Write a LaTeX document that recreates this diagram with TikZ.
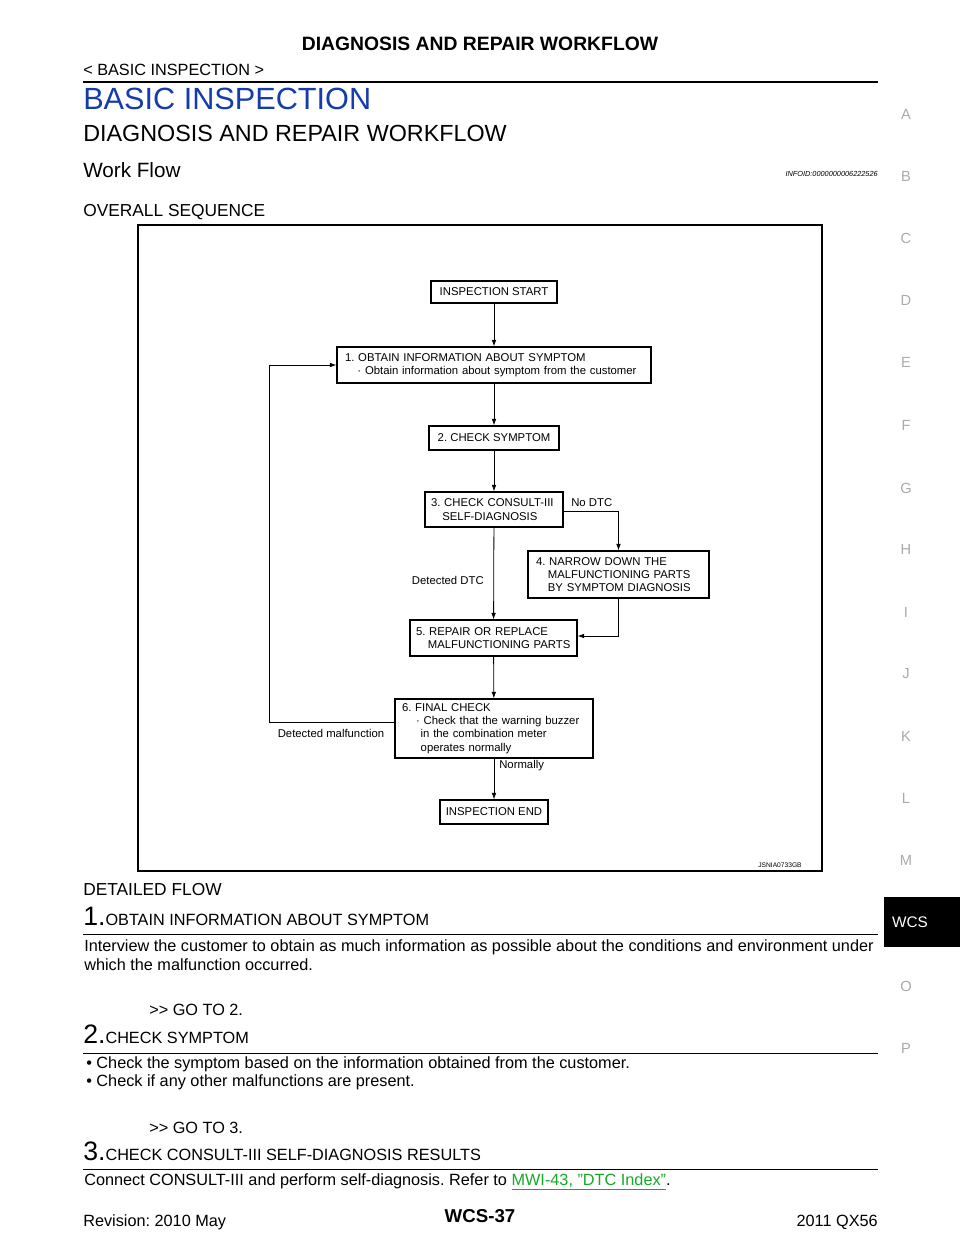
\documentclass[tikz,border=0pt]{standalone}
\usepackage{fontspec}
\setmainfont{Liberation Sans}
\usetikzlibrary{arrows.meta}
\frenchspacing
\definecolor{hblue}{RGB}{20,60,170}
\definecolor{lgray}{RGB}{170,170,170}
\definecolor{lgreen}{RGB}{20,170,40}
\tikzset{
 bx/.style={draw,line width=0.8pt,inner xsep=0pt,inner ysep=0pt,font=\fontsize{8.5}{10}\selectfont},
 fl/.style={font=\fontsize{8.5}{10}\selectfont,inner sep=0pt},
 ar/.style={-{Latex[length=5pt,width=3.5pt]},line width=0.6pt},
 side/.style={text=lgray,font=\fontsize{11}{13}\selectfont,inner sep=0pt},
 body/.style={font=\fontsize{12.2}{14}\selectfont,inner sep=0pt,anchor=west},
}
\begin{document}
\begin{tikzpicture}[x=0.75pt,y=-0.75pt]
\useasboundingbox (0,0) rectangle (960,1242);
% header
\node[font=\bfseries\fontsize{14.5}{16}\selectfont] (h1) at (480,44) {DIAGNOSIS AND REPAIR WORKFLOW};
\node[body] (h2) at (83,70) {< BASIC INSPECTION >};
\draw[line width=1.6pt] (83,82) -- (878,82);
\node[anchor=west,inner sep=0pt,text=hblue,font=\fontsize{23}{26}\selectfont] (h3) at (83,99) {BASIC INSPECTION};
\node[anchor=west,inner sep=0pt,font=\fontsize{17.5}{20}\selectfont] (h4) at (83,133) {DIAGNOSIS AND REPAIR WORKFLOW};
\node[anchor=west,inner sep=0pt,font=\fontsize{15.5}{18}\selectfont] (h5) at (83,170) {Work Flow};
\node[anchor=east,inner sep=0pt,font=\itshape\fontsize{5.5}{6}\selectfont] (h6) at (878,174) {INFOID:0000000006222526};
\node[anchor=west,inner sep=0pt,font=\fontsize{13}{15}\selectfont] (h7) at (83,212) {OVERALL SEQUENCE};
% frame
\draw[line width=1.5pt] (138,225) rectangle (822,871);
% boxes
\node[bx,minimum width=126*0.75pt,minimum height=22*0.75pt] (s) at (494,292) {INSPECTION START};
\node[bx,minimum height=36*0.75pt,text width=298*0.75pt,inner xsep=6pt,align=left] (b1) at (494,365) {1. OBTAIN INFORMATION ABOUT SYMPTOM\\\hspace*{1.1em}· Obtain information about symptom from the customer};
\node[bx,minimum width=130*0.75pt,minimum height=24*0.75pt] (b2) at (494,438) {2. CHECK SYMPTOM};
\node[bx,minimum height=35*0.75pt,text width=126*0.75pt,inner xsep=4.5pt,align=left] (b3) at (494,509.5) {3. CHECK CONSULT-III\\\hspace*{1.0em}SELF-DIAGNOSIS};
\node[bx,minimum height=47*0.75pt,text width=165*0.75pt,inner xsep=6pt,align=left] (b4) at (618.5,574.5) {4. NARROW DOWN THE\\\hspace*{1.05em}MALFUNCTIONING PARTS\\\hspace*{1.05em}BY SYMPTOM DIAGNOSIS};
\node[bx,minimum height=36*0.75pt,text width=155*0.75pt,inner xsep=4.5pt,align=left] (b5) at (493.5,638) {5. REPAIR OR REPLACE\\\hspace*{1.05em}MALFUNCTIONING PARTS};
\node[bx,minimum height=59*0.75pt,text width=184*0.75pt,inner xsep=5.25pt,align=left] (b6) at (494,728.5) {6. FINAL CHECK\\\hspace*{1.25em}· Check that the warning buzzer\\\hspace*{1.65em}in the combination meter\\\hspace*{1.65em}operates normally};
\node[bx,minimum width=108*0.75pt,minimum height=24*0.75pt] (e) at (494,812) {INSPECTION END};
% connectors
\draw[ar] (s) -- (b1);
\draw[ar] (b1) -- (b2);
\draw[ar] (b2) -- (b3);
\draw[ar] (b3) -- (b5);
\draw[ar] (b5) -- (b6);
\draw[ar] (b6) -- (e);
\coordinate (c1) at (619,511);
\draw[ar] (b3.east |- c1) -| (b4.north);
\coordinate (c2) at (619,636);
\draw[ar] (b4.south) |- (b5.east |- c2);
\coordinate (c3) at (269,722);
\coordinate (c4) at (269,365);
\draw[ar] (b6.west |- c3) -- (c3) -- (c4) -- (b1.west);
% labels
\node[fl,anchor=west] (l1) at (571,503) {No DTC};
\node[fl,anchor=east] (l2) at (484,580) {Detected DTC};
\node[fl] (l3) at (331,733) {Detected malfunction};
\node[fl,anchor=west] (l4) at (499,766) {Normally};
\node[inner sep=0pt,font=\fontsize{5}{6}\selectfont] (l5) at (780,865) {JSNIA0733GB};
% side letters
\foreach \t/\yy in {A/114,B/176,C/238,D/300,E/362,F/425,G/488,H/549,I/612,J/674,K/736,L/798,M/860,O/986,P/1048}
 \node[side] (side\t) at (906,\yy) {\t};
\fill (884,897) rectangle (960,947);
\node[text=white,font=\fontsize{11.5}{13}\selectfont,inner sep=0pt] (wcs) at (910,922) {WCS};
% detailed
\node[anchor=west,inner sep=0pt,font=\fontsize{13}{15}\selectfont] (d0) at (83,890) {DETAILED FLOW};
\node[anchor=base west,inner sep=0pt] (d1) at (83,925) {\fontsize{20}{22}\selectfont 1.\fontsize{12.2}{14}\selectfont OBTAIN INFORMATION ABOUT SYMPTOM};
\draw[line width=0.6pt] (83,934) -- (878,934);
\node[body] (t1) at (84,947) {Interview the customer to obtain as much information as possible about the conditions and environment under};
\node[body] (t2) at (84,965) {which the malfunction occurred.};
\node[body] (g2) at (149,1010) {{>}{>} GO TO 2.};
\node[anchor=base west,inner sep=0pt] (d2) at (83,1043) {\fontsize{20}{22}\selectfont 2.\fontsize{12.2}{14}\selectfont CHECK SYMPTOM};
\draw[line width=0.6pt] (83,1053) -- (878,1053);
\node[body] (t3) at (86,1064) {•\ Check the symptom based on the information obtained from the customer.};
\node[body] (t4) at (86,1082) {•\ Check if any other malfunctions are present.};
\node[body] (g3) at (149,1128) {{>}{>} GO TO 3.};
\node[anchor=base west,inner sep=0pt] (d3) at (83,1160) {\fontsize{20}{22}\selectfont 3.\fontsize{12.2}{14}\selectfont CHECK CONSULT-III SELF-DIAGNOSIS RESULTS};
\draw[line width=0.6pt] (83,1169) -- (878,1169);
\node[body] (t5) at (84,1182) {Connect CONSULT-III and perform self-diagnosis. Refer to \textcolor{lgreen}{\underline{MWI-43, "DTC Index"}}.};
% footer
\node[body] (f1) at (83,1222) {Revision: 2010 May};
\node[inner sep=0pt,font=\bfseries\fontsize{14}{16}\selectfont] (f2) at (480,1216) {WCS-37};
\node[inner sep=0pt,anchor=east,font=\fontsize{12.2}{14}\selectfont] (f3) at (878,1222) {2011 QX56};
\end{tikzpicture}
\end{document}
